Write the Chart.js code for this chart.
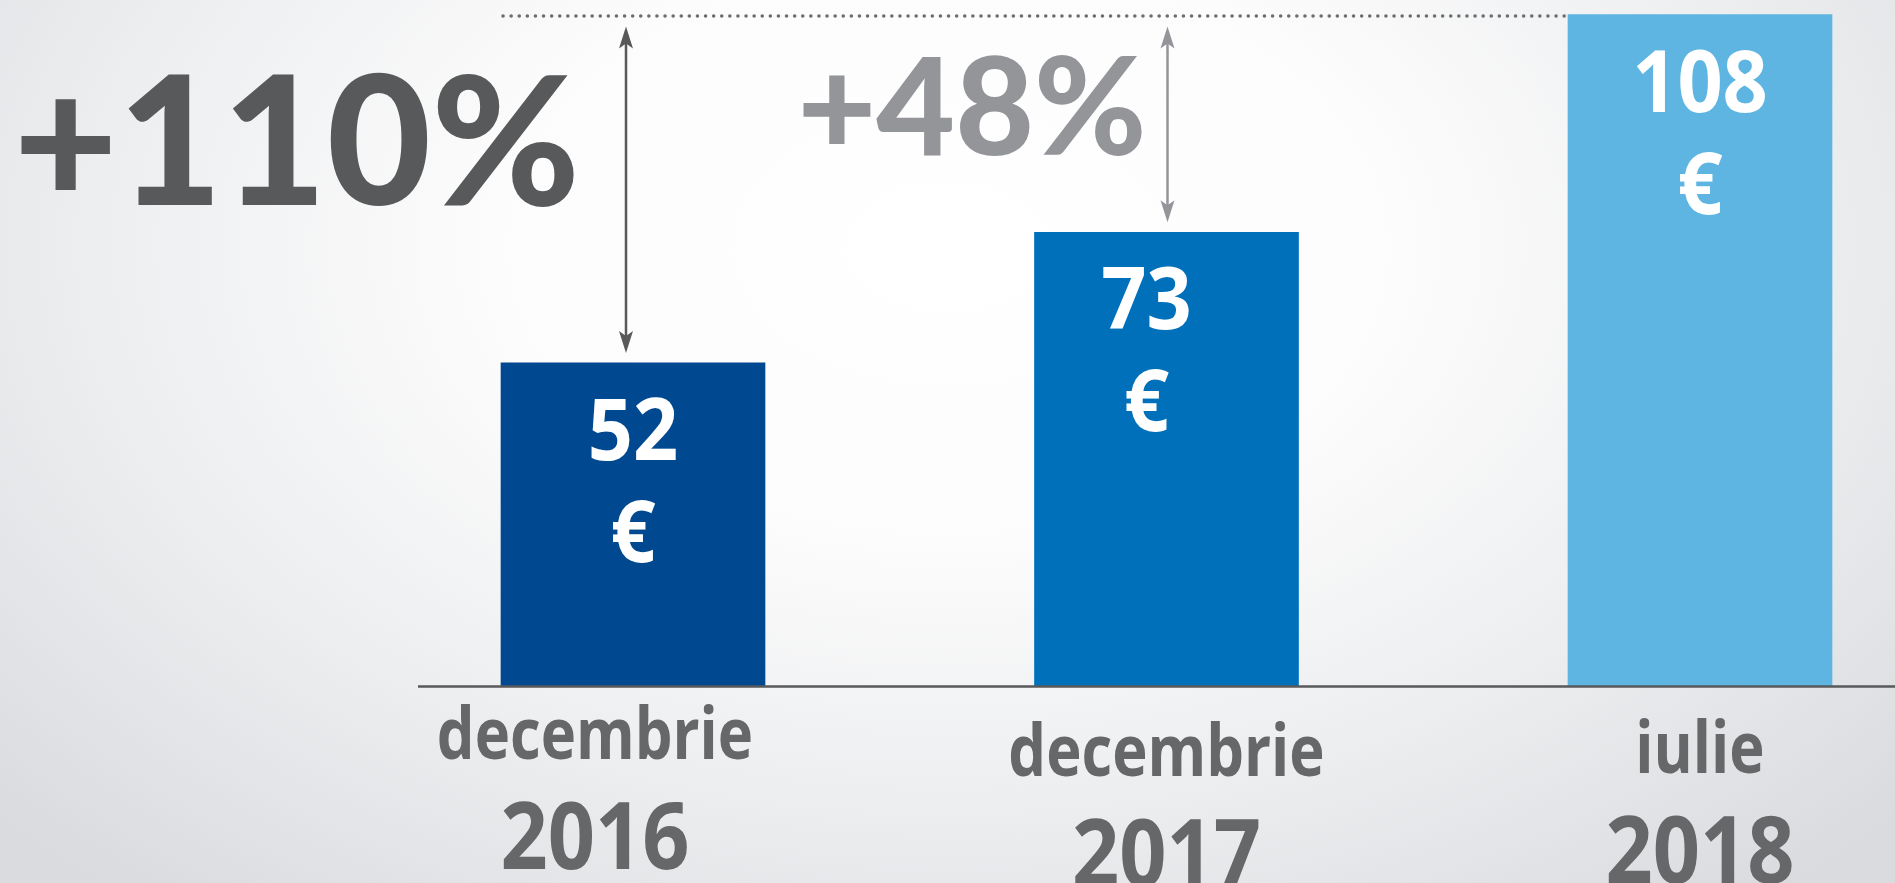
<!DOCTYPE html>
<html>
<head>
<meta charset="utf-8">
<script src="https://cdn.jsdelivr.net/npm/chart.js"></script>
<style>
  html, body { margin: 0; padding: 0; }
  body {
    width: 1895px; height: 883px; overflow: hidden;
    background: radial-gradient(ellipse 68% 95% at 50% 28%, #ffffff 0%, #fcfcfc 35%, #edeef0 66%, #dadbde 100%);
  }
  canvas { display: block; }
</style>
</head>
<body>
<canvas id="salariu" width="1895" height="883"></canvas>
<script>
const months = ['decembrie', 'decembrie', 'iulie'];
const years = ['2016', '2017', '2018'];
const values = [52, 73, 108];
const currency = '€';
const changes = ['+110%', '+48%'];
const barColors = ['#004990', '#0070bb', '#5eb5e1'];

var ctx = document.querySelector('#salariu');

// text drawn squeezed horizontally, the original uses a condensed face
function squeezed(c, text, x, y, sx) {
    c.save();
    c.translate(x, y);
    c.scale(sx, 1);
    c.fillText(text, 0, 0);
    c.restore();
}

function arrowHead(c, x, y, dir) {
    c.beginPath();
    c.moveTo(x, y);
    c.lineTo(x - 7, y + dir * 22);
    c.lineTo(x, y + dir * 17);
    c.lineTo(x + 7, y + dir * 22);
    c.closePath();
    c.fill();
}

const decor = {
    id: 'decor',
    afterDatasetsDraw(chart, args, opts) {
        const c = chart.ctx;
        const y = chart.scales.y;
        const bars = chart.getDatasetMeta(0).data;
        const zeroY = y.getPixelForValue(0);
        const topY = y.getPixelForValue(Math.max(...values));

        // baseline
        c.save();
        c.strokeStyle = '#58595b';
        c.lineWidth = 2.5;
        c.beginPath();
        c.moveTo(opts.axisStart, zeroY);
        c.lineTo(chart.width, zeroY);
        c.stroke();

        // dotted reference line at the top value
        const half = bars[0].width / 2;
        c.strokeStyle = '#6d6e71';
        c.lineWidth = 3.5;
        c.lineCap = 'round';
        c.setLineDash([0.1, 8]);
        c.beginPath();
        c.moveTo(bars[0].x - half + 2, topY + 1.5);
        c.lineTo(bars[bars.length - 1].x - half - 2, topY + 1.5);
        c.stroke();
        c.setLineDash([]);
        c.lineCap = 'butt';

        // growth arrows + percent texts
        changes.forEach(function (txt, i) {
            const col = opts.arrowColors[i];
            const ax = bars[i].x + opts.arrowShift[i];
            const y1 = topY + 12;
            const y2 = bars[i].y - 10;
            c.strokeStyle = col;
            c.fillStyle = col;
            c.lineWidth = 2.5;
            c.beginPath();
            c.moveTo(ax, y1 + 15);
            c.lineTo(ax, y2 - 15);
            c.stroke();
            arrowHead(c, ax, y1, 1);
            arrowHead(c, ax, y2, -1);

            c.font = '900 ' + opts.pctSize[i] + 'px Lato, Roboto, sans-serif';
            c.letterSpacing = '0px';
            c.textAlign = 'right';
            c.textBaseline = 'alphabetic';
            c.fillText(txt, ax - opts.pctGap[i], opts.pctBase[i]);
        });

        // values inside the bars
        c.fillStyle = '#ffffff';
        c.textAlign = 'center';
        bars.forEach(function (b, i) {
            const vx = b.x + opts.valueShift[i];
            c.font = 'bold 86px "Open Sans", sans-serif';
            squeezed(c, String(values[i]), vx, b.y + 97, 0.92);
            squeezed(c, currency, vx, b.y + 199, 0.92);
        });

        // category labels under the axis
        c.fillStyle = '#666769';
        bars.forEach(function (b, i) {
            const n = opts.nudge[i];
            c.font = 'bold 72px "Open Sans", sans-serif';
            squeezed(c, months[i], b.x + n[0], opts.monthBase + n[1], 0.83);
            c.font = 'bold 94px "Open Sans", sans-serif';
            squeezed(c, years[i], b.x + n[0], opts.yearBase + n[1], 0.88);
        });
        c.restore();
    }
};

var data = {
    labels: years,
    datasets: [{
        data: values,
        backgroundColor: barColors,
        borderWidth: 0,
        barThickness: 264,
        clip: false
    }]
};

const config = {
    type: 'bar',
    data: data,
    options: {
        responsive: false,
        animation: false,
        layout: {
            padding: { left: 633, right: 195, top: 14.6, bottom: 196.6 }
        },
        scales: {
            x: { display: false, offset: false },
            y: { display: false, min: 0, max: 108 }
        },
        plugins: {
            legend: { display: false },
            tooltip: { enabled: false },
            decor: {
                axisStart: 418,
                arrowColors: ['#58595b', '#939598'],
                arrowShift: [-7, 1],
                pctSize: [180, 136],
                pctGap: [46, 21],
                pctBase: [205, 155],
                valueShift: [0, -20, 0],
                monthBase: 776,
                yearBase: 886,
                nudge: [[-38, -17], [0, 0], [0, -3]]
            }
        }
    },
    plugins: [decor]
};
var mixedChart = new Chart(ctx, config);
</script>
</body>
</html>
